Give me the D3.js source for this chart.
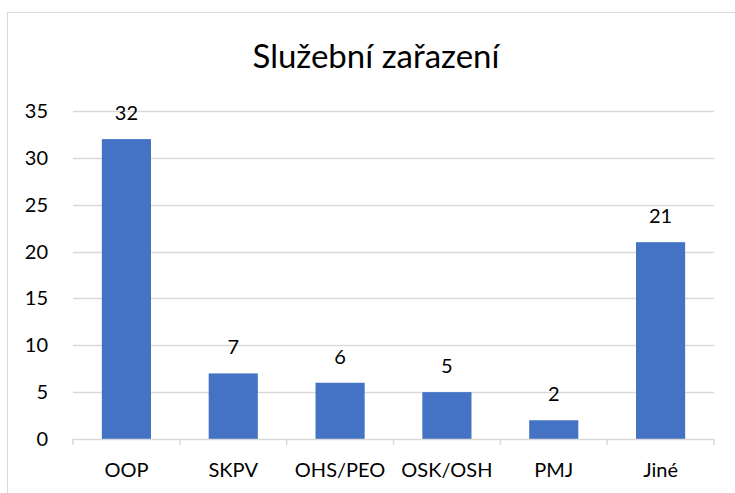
<!DOCTYPE html>
<html>
<head>
<meta charset="utf-8">
<script src="https://cdn.jsdelivr.net/npm/d3@7"></script>
<style>
  body { margin: 0; background: #fff; }
  svg text { font-family: Lato, "Open Sans", sans-serif; fill: #000; }
</style>
</head>
<body>
<svg class="chartSVG" width="735" height="493"></svg>
<script>
const categories = ['OOP', 'SKPV', 'OHS/PEO', 'OSK/OSH', 'PMJ', 'Jiné'];
const counts = [32, 7, 6, 5, 2, 21];
const yTicks = [0, 5, 10, 15, 20, 25, 30, 35];
const chartTitle = 'Služební zařazení';

const svg = d3.select('svg.chartSVG');
const plot = {left: 73, right: 714, top: 111, bottom: 439};

// chart border, runs off the right and bottom edge like the original
svg.append('rect')
    .attr('x', 7.5)
    .attr('y', 12.5)
    .attr('width', 760)
    .attr('height', 520)
    .style('fill', 'none')
    .style('stroke', '#d9d9d9');

const x = d3.scaleBand()
    .domain(categories)
    .range([plot.left, plot.right])
    .paddingInner(0.54)
    .paddingOuter(0.27);

const y = d3.scaleLinear()
    .domain([0, 35])
    .range([plot.bottom, plot.top]);

// gridlines
svg.append('g')
    .attr('class', 'grid')
    .selectAll('line')
    .data(yTicks.filter(d => d > 0))
    .enter()
    .append('line')
    .attr('x1', plot.left)
    .attr('x2', plot.right)
    .attr('y1', d => Math.round(y(d)) + 0.5)
    .attr('y2', d => Math.round(y(d)) + 0.5)
    .style('stroke', '#d9d9d9')
    .style('stroke-width', 1.5);

// y labels
svg.append('g')
    .attr('class', 'yLabels')
    .selectAll('text')
    .data(yTicks)
    .enter()
    .append('text')
    .attr('x', 48)
    .attr('y', d => y(d) + 7)
    .style('text-anchor', 'end')
    .style('font-size', '20px')
    .text(d => d);

// bars
svg.append('g')
    .attr('class', 'bars')
    .selectAll('rect')
    .data(categories)
    .enter()
    .append('rect')
    .attr('x', d => x(d))
    .attr('y', (d, i) => y(counts[i]))
    .attr('width', x.bandwidth())
    .attr('height', (d, i) => y(0) - y(counts[i]))
    .style('fill', '#4472c4');

// x axis with tick marks between categories
const xAxis = svg.append('g').attr('class', 'xAxis');
xAxis.append('line')
    .attr('x1', plot.left)
    .attr('x2', plot.right)
    .attr('y1', plot.bottom + 0.5)
    .attr('y2', plot.bottom + 0.5)
    .style('stroke', '#d9d9d9')
    .style('stroke-width', 1.5);

const step = (plot.right - plot.left) / categories.length;
xAxis.selectAll('line.tick')
    .data(d3.range(categories.length + 1))
    .enter()
    .append('line')
    .attr('class', 'tick')
    .attr('x1', i => plot.left + i * step)
    .attr('x2', i => plot.left + i * step)
    .attr('y1', plot.bottom)
    .attr('y2', plot.bottom + 6)
    .style('stroke', '#d9d9d9')
    .style('stroke-width', 1.5);

xAxis.selectAll('text')
    .data(categories)
    .enter()
    .append('text')
    .attr('x', d => x(d) + x.bandwidth() / 2)
    .attr('y', 477)
    .style('text-anchor', 'middle')
    .style('font-size', '20px')
    .text(d => d);

// value labels
svg.append('g')
    .attr('class', 'valLabels')
    .selectAll('text')
    .data(categories)
    .enter()
    .append('text')
    .attr('x', d => x(d) + x.bandwidth() / 2)
    .attr('y', (d, i) => y(counts[i]) - 19)
    .style('text-anchor', 'middle')
    .style('font-size', '20px')
    .text((d, i) => counts[i]);

svg.append('text')
    .attr('class', 'title')
    .attr('x', 376)
    .attr('y', 68)
    .style('text-anchor', 'middle')
    .style('font-size', '33px')
    .text(chartTitle);
</script>
</body>
</html>
